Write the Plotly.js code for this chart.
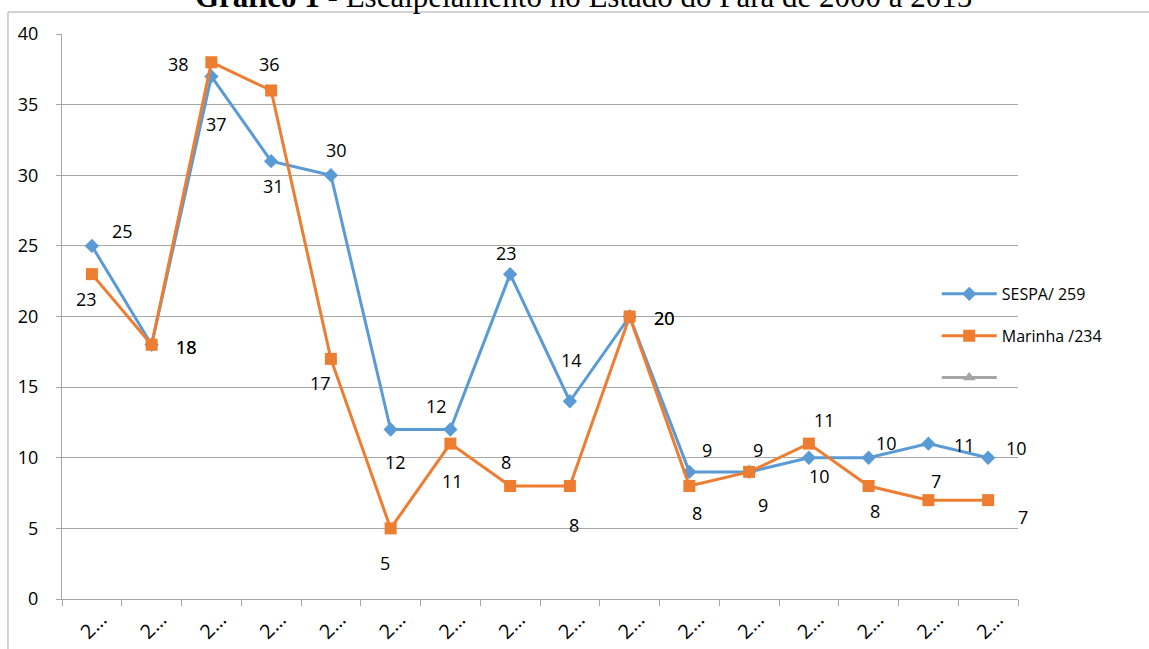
<!DOCTYPE html>
<html>
<head>
<meta charset="utf-8">
<script src="https://cdn.plot.ly/plotly-3.0.1.min.js"></script>
<style>html,body{margin:0;padding:0;background:#fff;}</style>
</head>
<body>
<div id="chart" style="width:1149px;height:649px;"></div>
<script>
// ---- data ----
var years = ["2000","2001","2002","2003","2004","2005","2006","2007","2008","2009","2010","2011","2012","2013","2014","2015"];
var tickLabels = ["2…","2…","2…","2…","2…","2…","2…","2…","2…","2…","2…","2…","2…","2…","2…","2…"];
var sespa = [25, 18, 37, 31, 30, 12, 12, 23, 14, 20, 9, 9, 10, 10, 11, 10];
var marinha = [23, 18, 38, 36, 17, 5, 11, 8, 8, 20, 8, 9, 11, 8, 7, 7];
var serie3 = [null, null, null, null, null, null, null, null, null, null, null, null, null, null, null, null];
var nameSespa = "SESPA/ 259";
var nameMarinha = "Marinha /234";
var name3 = " ";
var titleText = "<b>Gráfico 1</b> - Escalpelamento no Estado do Pará de 2000 a 2015";

// ---- label placement (style, px offsets: right, down) ----
var sespaDX = [31, 35, 5, 2, 6, 5, -14, -4, 2, 35, 18, 9, 11, 18, 36, 28];
var sespaDY = [-15, 2, 48, 25, -25, 32, -24, -21, -41, 1, -22, -22, 18, -15, 1, -10];
var marDX = [-5, 35, -33, -2, -10, -6, 2, -4, 4, 35, 8, 14, 16, 6, 8, 35];
var marDY = [25, 2, 2, -27, 24, 35, 37, -24, 39, 1, 27, 33, -24, 25, -19, 17];

var blue = "#5B9BD5", orange = "#ED7D31", gray = "#A5A5A5";
var sans = "'Open Sans', 'Noto Sans', sans-serif";
var labelFont = {family: sans, size: 18, color: "#000"};

var traces = [
  {x: years, y: sespa, name: nameSespa, type: "scatter", mode: "lines+markers",
   line: {color: blue, width: 3}, marker: {symbol: "diamond", size: 11, color: blue},
   legendgroup: "a", hoverinfo: "x+y"},
  {x: years, y: marinha, name: nameMarinha, type: "scatter", mode: "lines+markers",
   line: {color: orange, width: 3}, marker: {symbol: "square", size: 12, color: orange},
   legendgroup: "b", hoverinfo: "x+y"},
  {x: years, y: serie3, name: name3, type: "scatter", mode: "lines+markers",
   line: {color: gray, width: 3}, marker: {symbol: "triangle-up", size: 11, color: gray},
   legendgroup: "c"}
];

var annotations = [];
function addLabels(vals, dx, dy) {
  for (var i = 0; i < vals.length; i++) {
    annotations.push({x: i, y: vals[i], xref: "x", yref: "y", text: String(vals[i]),
      showarrow: false, xshift: dx[i], yshift: -dy[i], font: labelFont,
      xanchor: "center", yanchor: "middle"});
  }
}
addLabels(sespa, sespaDX, sespaDY);
addLabels(marinha, marDX, marDY);

var layout = {
  width: 1149, height: 649, autosize: false,
  paper_bgcolor: "#fff", plot_bgcolor: "rgba(0,0,0,0)",
  margin: {l: 62, r: 131, t: 34, b: 50, pad: 0},
  title: {text: titleText, font: {family: "'Liberation Serif', 'Times New Roman', serif", size: 31, color: "#000"},
          x: 0.508, xanchor: "center", xref: "container", yref: "container", y: 0.989, yanchor: "bottom"},
  showlegend: true,
  legend: {x: 0.915, y: 0.57, xanchor: "left", yanchor: "top", bgcolor: "rgba(0,0,0,0)",
           font: {family: sans, size: 16, color: "#000"},
           traceorder: "grouped", tracegroupgap: 18, itemwidth: 55},
  xaxis: {type: "category", tickmode: "array", tickvals: years, ticktext: tickLabels,
          tickangle: -45, tickson: "boundaries", ticks: "outside", ticklen: 6, tickcolor: "#a6a6a6",
          showline: true, linecolor: "#a6a6a6", linewidth: 1, showgrid: false, zeroline: false,
          tickfont: {family: sans, size: 20, color: "#000"},
          ticklabelshift: 9, range: [-0.5, 15.5], fixedrange: true},
  yaxis: {range: [0, 40], dtick: 5, tick0: 0, ticks: "outside", ticklen: 5, tickcolor: "#a6a6a6",
          showline: true, linecolor: "#a6a6a6", linewidth: 1, showgrid: true, gridcolor: "#a6a6a6",
          gridwidth: 1, zeroline: false, ticklabelstandoff: 14,
          tickfont: {family: sans, size: 18, color: "#000"}, fixedrange: true},
  annotations: annotations,
  shapes: [{type: "rect", xref: "paper", yref: "paper", x0: -0.0565, x1: 1.145, y0: -0.1, y1: 1.0389,
            line: {color: "#a6a6a6", width: 1}, fillcolor: "rgba(0,0,0,0)", layer: "below"}]
};

Plotly.newPlot("chart", traces, layout, {displayModeBar: false, staticPlot: true});
</script>
</body>
</html>
